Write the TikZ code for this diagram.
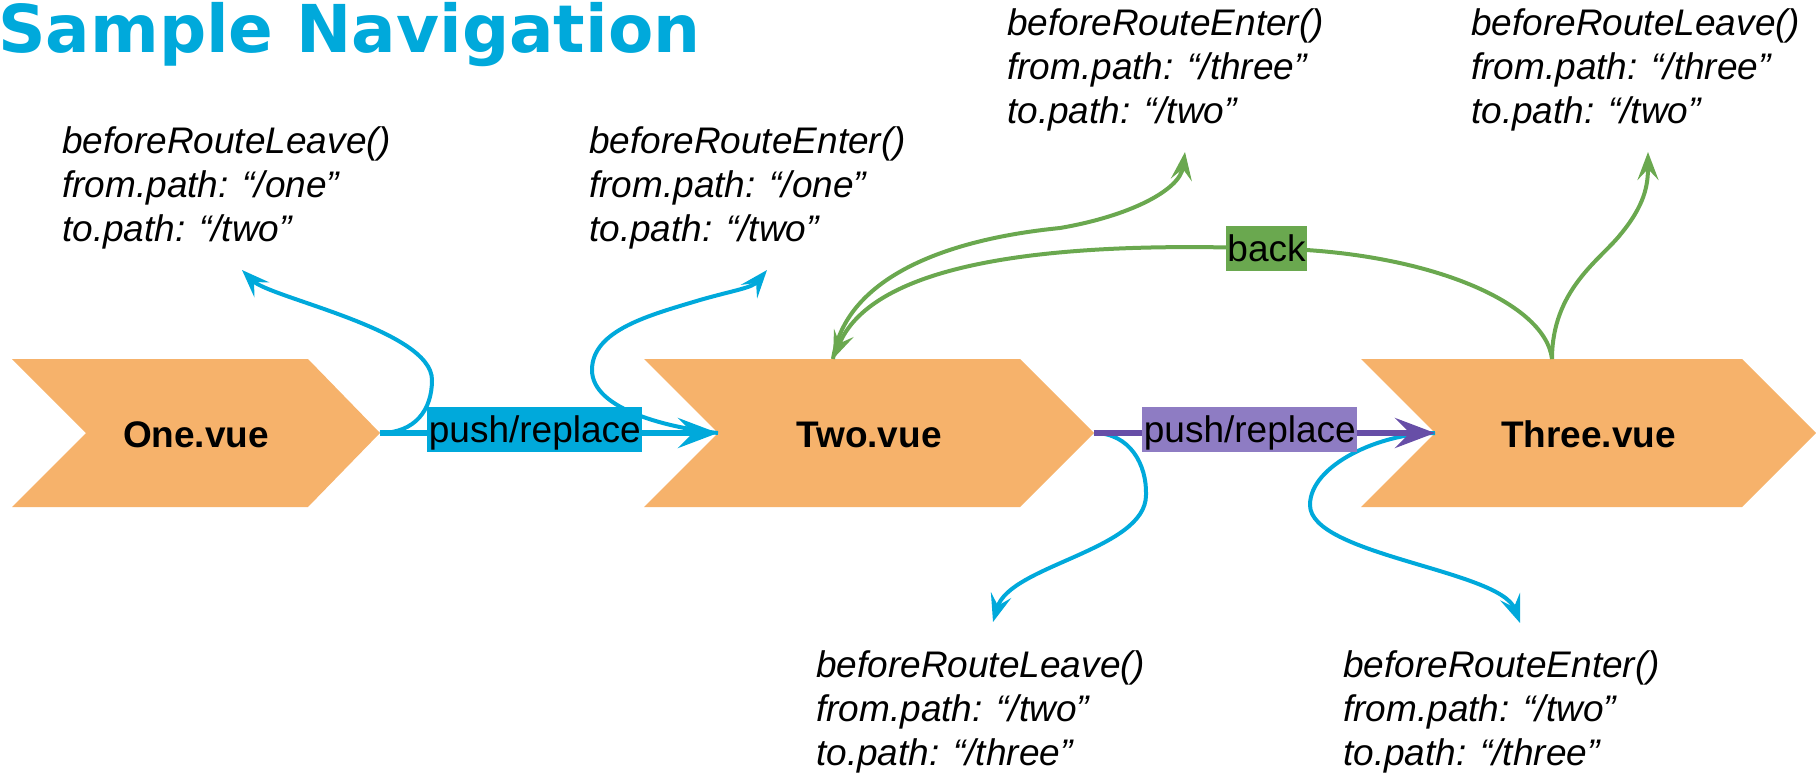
\documentclass[tikz,border=0pt]{standalone}
\usepackage{fontspec}
\setmainfont{Liberation Sans}
\newfontfamily\headfont{DejaVu Sans}
\usetikzlibrary{arrows.meta}

\definecolor{navblue}{HTML}{00A9DB}
\definecolor{chevfill}{HTML}{F6B26B}
\definecolor{pushpurple}{HTML}{674EA7}
\definecolor{labelpurple}{HTML}{8E7CC3}
\definecolor{backgreen}{HTML}{6AA84F}

\begin{document}
\begin{tikzpicture}[x=1pt,y=1pt,
  pagelabel/.style={inner sep=0pt, font=\fontsize{37}{44}\selectfont\bfseries},
  hooktext/.style={anchor=north west, inner sep=0pt, align=left,
    font=\fontsize{37}{44}\selectfont\itshape},
  tagbox/.style={inner xsep=1.5pt, inner ysep=0pt, text height=35pt, text depth=10pt,
    text=black, font=\fontsize{37}{44}\selectfont},
  navline/.style={line width=6pt, -{Stealth[length=40pt,width=30pt,inset=15pt]}},
  hookline/.style={line width=4pt, -{Stealth[length=28pt,width=21pt,inset=11pt]}},
]
\path[use as bounding box] (0,0) rectangle (1816,-773);

% title
\node[anchor=base west, inner sep=0pt, text=navblue,
  font=\headfont\bfseries\fontsize{66}{66}\selectfont] (title) at (-2,-53) {Sample Navigation};

% route pages
\fill[chevfill] (12,-359) -- (308,-359) -- (380,-433) -- (308,-507) -- (12,-507) -- (86,-433) -- cycle;
\fill[chevfill] (644,-359) -- (1020,-359) -- (1094,-433) -- (1020,-507) -- (644,-507) -- (718,-433) -- cycle;
\fill[chevfill] (1361,-359) -- (1742,-359) -- (1816,-433) -- (1742,-507) -- (1361,-507) -- (1435,-433) -- cycle;
\node[pagelabel] (one) at (196,-434.5) {One.vue};
\node[pagelabel] (two) at (869,-434.5) {Two.vue};
\node[pagelabel] (three) at (1588.5,-434.5) {Three.vue};

% anchor points on the pages
\coordinate (onetip) at (380,-433);
\coordinate (twonotch) at (718,-433);
\coordinate (twotip) at (1094,-433);
\coordinate (threenotch) at (1435,-433);
\coordinate (twotop) at (833,-359);
\coordinate (threetop) at (1552,-359);
\coordinate (backmid) at (1266.5,-248.5);

% hook texts
\node[hooktext] (leaveOne) at (62,-126) {beforeRouteLeave()\\from.path: “/one”\\to.path: “/two”};
\node[hooktext] (enterTwo) at (589,-126) {beforeRouteEnter()\\from.path: “/one”\\to.path: “/two”};
\node[hooktext] (enterBack) at (1007,-8) {beforeRouteEnter()\\from.path: “/three”\\to.path: “/two”};
\node[hooktext] (leaveThree) at (1471,-8) {beforeRouteLeave()\\from.path: “/three”\\to.path: “/two”};
\node[hooktext] (leaveTwo) at (816,-650) {beforeRouteLeave()\\from.path: “/two”\\to.path: “/three”};
\node[hooktext] (enterThree) at (1343,-650) {beforeRouteEnter()\\from.path: “/two”\\to.path: “/three”};

% arrow ends pointing at the hook texts
\coordinate (hookA) at (242,-270);
\coordinate (hookB) at (767,-270);
\coordinate (hookC) at (1185,-152);
\coordinate (hookD) at (1648,-152);
\coordinate (hookE) at (993,-622);
\coordinate (hookF) at (1520,-623);

% hook calls on push/replace
\draw[hookline, navblue] (onetip) .. controls (415,-433) and (432,-410) .. (432,-380)
  .. controls (432,-330) and (270,-298) .. (hookA);
\draw[hookline, navblue] (twonotch) .. controls (670,-428) and (592,-410) .. (592,-370)
  .. controls (592,-330) and (650,-315) .. (700,-300)
  .. controls (735,-290) and (752,-288) .. (hookB);
\draw[hookline, navblue] (twotip) .. controls (1130,-433) and (1147,-465) .. (1146,-495)
  .. controls (1146,-550) and (1010,-565) .. (hookE);
\draw[hookline, navblue] (threenotch) .. controls (1380,-433) and (1310,-465) .. (1310,-505)
  .. controls (1310,-555) and (1500,-570) .. (hookF);

% back navigation and its hook calls
\draw[hookline, backgreen] (threetop) .. controls (1545,-300) and (1420,-250) .. (backmid)
  .. controls (1020,-240) and (870,-270) .. (twotop);
\draw[hookline, backgreen] (twotop) .. controls (845,-280) and (940,-240) .. (1060,-228)
  .. controls (1130,-216) and (1180,-190) .. (hookC);
\draw[hookline, backgreen] (threetop) .. controls (1552,-290) and (1600,-260) .. (1620,-235)
  .. controls (1645,-205) and (1648,-185) .. (hookD);
\node[tagbox, fill=backgreen] (back) at (backmid) {back};

% push/replace transitions
\draw[navline, navblue] (onetip) -- node[tagbox, fill=navblue, pos=0.458, yshift=3.5pt] (pushA) {push/replace} (twonotch);
\draw[navline, pushpurple] (twotip) -- node[tagbox, fill=labelpurple, pos=0.457, yshift=3.5pt] (pushB) {push/replace} (threenotch);
\end{tikzpicture}
\end{document}
